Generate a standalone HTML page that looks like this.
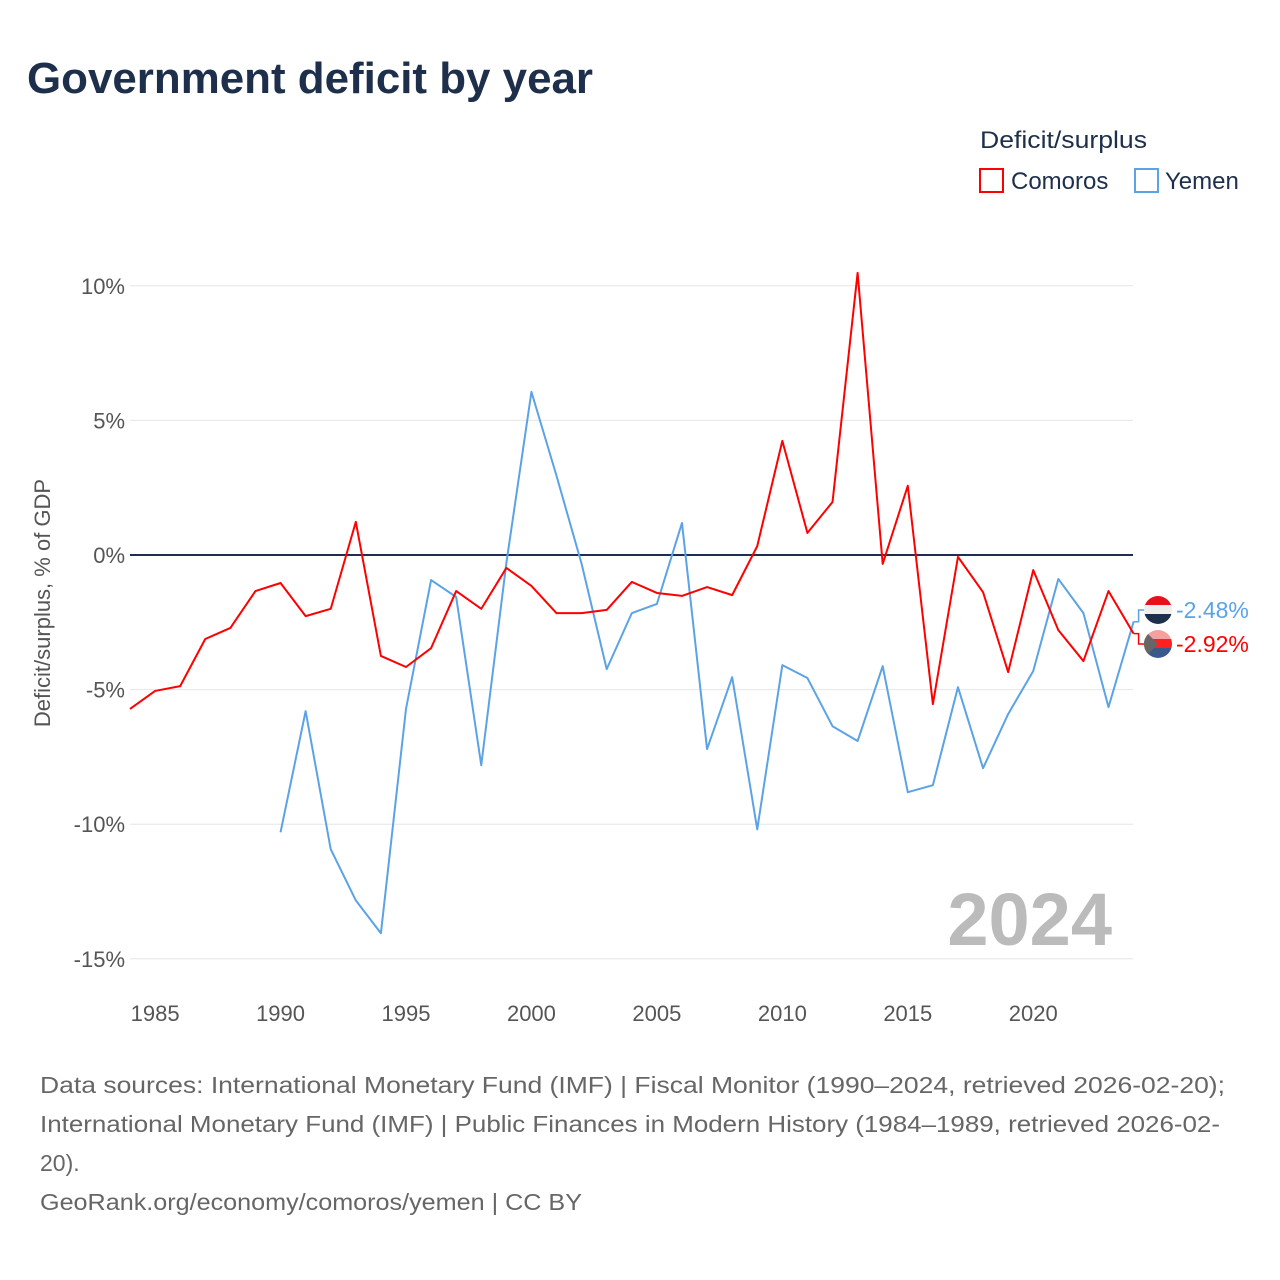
<!DOCTYPE html>
<html><head><meta charset="utf-8"><style>
body{margin:0;background:#fff;}
svg{display:block;font-family:"Liberation Sans",sans-serif;}
</style></head><body>
<svg id="chart" width="1280" height="1280" viewBox="0 0 1280 1280">
<defs><clipPath id="fc1"><circle cx="1158" cy="610" r="14"/></clipPath><clipPath id="fc2"><circle cx="1158" cy="644" r="14"/></clipPath></defs>
<text x="27" y="93" font-size="44" font-weight="bold" fill="#1d2f4a" textLength="566" lengthAdjust="spacingAndGlyphs">Government deficit by year</text>
<g>
<text x="980" y="148" font-size="24" fill="#1d2f4a" textLength="167" lengthAdjust="spacingAndGlyphs">Deficit/surplus</text>
<g><rect x="980" y="169" width="23" height="23" fill="none" stroke="#ff0000" stroke-width="2"/><text x="1011" y="189" font-size="24" fill="#1d2f4a">Comoros</text></g>
<g><rect x="1135" y="169" width="23" height="23" fill="none" stroke="#5ba3e6" stroke-width="2"/><text x="1165" y="189" font-size="24" fill="#1d2f4a">Yemen</text></g>
</g>
<g id="grid"></g>
<g id="yticks"></g>
<g id="xticks"></g>
<text transform="translate(50,603) rotate(-90)" text-anchor="middle" font-size="22" fill="#555">Deficit/surplus, % of GDP</text>
<text x="1112" y="945" text-anchor="end" font-size="74" font-weight="bold" fill="#bbb">2024</text>
<g id="series"></g>
<g id="labels"></g>
<g font-size="23" fill="#666">
<text x="40" y="1093" textLength="1185" lengthAdjust="spacingAndGlyphs">Data sources: International Monetary Fund (IMF) | Fiscal Monitor (1990–2024, retrieved 2026-02-20);</text>
<text x="40" y="1132" textLength="1180" lengthAdjust="spacingAndGlyphs">International Monetary Fund (IMF) | Public Finances in Modern History (1984–1989, retrieved 2026-02-</text>
<text x="40" y="1171">20).</text>
<text x="40" y="1210" textLength="542" lengthAdjust="spacingAndGlyphs">GeoRank.org/economy/comoros/yemen | CC BY</text>
</g>
</svg>
<script>
const yTicks=[10,5,0,-5,-10,-15];
const xTicks=[1985,1990,1995,2000,2005,2010,2015,2020];
const comorosYears=[1984,1985,1986,1987,1988,1989,1990,1991,1992,1993,1994,1995,1996,1997,1998,1999,2000,2001,2002,2003,2004,2005,2006,2007,2008,2009,2010,2011,2012,2013,2014,2015,2016,2017,2018,2019,2020,2021,2022,2023,2024];
const comorosValues=[-5.72,-5.05,-4.87,-3.12,-2.71,-1.34,-1.04,-2.27,-2.0,1.23,-3.75,-4.16,-3.46,-1.34,-2.0,-0.48,-1.15,-2.16,-2.16,-2.04,-1.0,-1.41,-1.52,-1.19,-1.49,0.33,4.24,0.82,1.97,10.48,-0.33,2.57,-5.54,-0.07,-1.38,-4.35,-0.56,-2.79,-3.94,-1.34,-2.92];
const yemenYears=[1990,1991,1992,1993,1994,1995,1996,1997,1998,1999,2000,2001,2002,2003,2004,2005,2006,2007,2008,2009,2010,2011,2012,2013,2014,2015,2016,2017,2018,2019,2020,2021,2022,2023,2024];
const yemenValues=[-10.3,-5.8,-10.93,-12.83,-14.05,-5.72,-0.93,-1.56,-7.81,-0.3,6.06,2.94,-0.33,-4.24,-2.16,-1.82,1.19,-7.21,-4.54,-10.19,-4.09,-4.57,-6.36,-6.91,-4.13,-8.81,-8.55,-4.91,-7.92,-5.91,-4.31,-0.89,-2.16,-5.65,-2.48];
const NS='http://www.w3.org/2000/svg';
const x=yr=>130+(yr-1984)*25.09;
const y=v=>555-v*26.92;
function el(tag,attrs,parent){const e=document.createElementNS(NS,tag);for(const k in attrs)e.setAttribute(k,attrs[k]);parent.appendChild(e);return e;}
const grid=document.getElementById('grid'),yt=document.getElementById('yticks'),xt=document.getElementById('xticks');
yTicks.forEach(v=>{
 const l=el('line',{x1:130,x2:1133,y1:y(v),y2:y(v),stroke:v===0?'#1d2f4a':'#e6e6e6','stroke-width':v===0?2:1},grid);
 
 
 const t=el('text',{x:125,y:y(v)+8,'text-anchor':'end','font-size':22,fill:'#555'},yt);
 t.textContent=v+'%';
 
 
});
xTicks.forEach(v=>{
 const t=el('text',{x:x(v),y:1021,'text-anchor':'middle','font-size':22,fill:'#555'},xt);
 t.textContent=v;
 
 
});
const ser=document.getElementById('series');
function line(years,vals,color,name){
 const p=el('polyline',{points:years.map((yr,i)=>x(yr)+','+y(vals[i])).join(' '),fill:'none',stroke:color,'stroke-width':2,'stroke-linejoin':'round'},ser);
 
 
}
line(yemenYears,yemenValues,'#5ba3e6','yemen-line');
line(comorosYears,comorosValues,'#ff0000','comoros-line');
const lab=document.getElementById('labels');
function endLabel(val,ly,color,name,flag,clip){
 const lx=x(2024);
 el('polyline',{points:lx+','+y(val)+' '+(lx+5)+','+y(val)+' '+(lx+5)+','+ly+' '+(lx+12)+','+ly,fill:'none',stroke:color,'stroke-width':1.5},lab);
 const g=el('g',{'clip-path':'url(#'+clip+')'},lab);
 
 
 el('rect',{x:1144,y:ly-14,width:28,height:10,fill:flag[0]},g);
 el('rect',{x:1144,y:ly-5,width:28,height:10,fill:flag[1]},g);
 el('rect',{x:1144,y:ly+4,width:28,height:10,fill:flag[2]},g);
 if(flag[3]) el('path',{d:`M1144,${ly-14} L1158,${ly} L1144,${ly+14} Z`,fill:flag[3]},g);
 const t=el('text',{x:1176,y:ly+8,'font-size':23,fill:color},lab);
 t.textContent=val.toFixed(2)+'%';
 
 
}
endLabel(yemenValues[yemenValues.length-1],610,'#5ba3e6','yemen',['#e8101a','#eeeeee','#1d2f4a'],'fc1');
endLabel(comorosValues[comorosValues.length-1],644,'#ff0000','comoros',['#f4a0a0','#ff2020','#3a5a8c','#666'],'fc2');
</script>
</body></html>
